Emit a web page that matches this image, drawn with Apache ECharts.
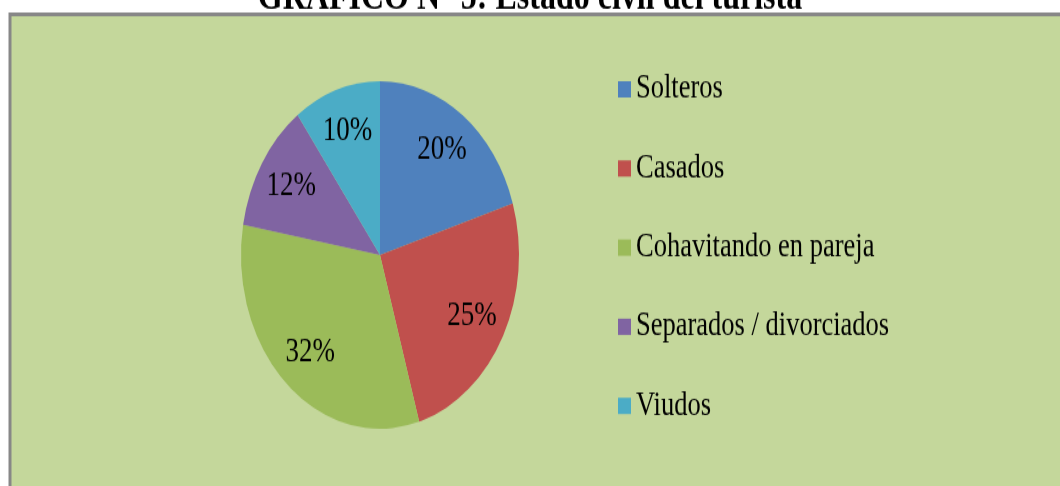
<!DOCTYPE html>
<html>
<head>
<meta charset="utf-8">
<script src="https://cdn.jsdelivr.net/npm/echarts@6/dist/echarts.min.js"></script>
<style>
  html, body { margin: 0; padding: 0; background: #fff; overflow: hidden; }
  #wrap { width: 1060px; height: 486px; overflow: hidden; position: relative; }
  /* the original picture is stretched vertically by about 1.25 */
  #chart { width: 1060px; height: 389px; transform: scaleY(1.25); transform-origin: 0 0; }
</style>
</head>
<body>
<div id="wrap"><div id="chart"></div></div>
<script>
const titleText = 'GRAFICO N° 5: Estado civil del turista'
const categories = ['Solteros', 'Casados', 'Cohavitando en pareja', 'Separados / divorciados', 'Viudos']
const percents = [20, 25, 32, 12, 10]
const colors = ['#4F81BD', '#C0504D', '#9BBB59', '#8064A2', '#4BACC6']

const pieData = categories.map((name, i) => ({ name, value: percents[i] }))
const center = [380, 204]
const radius = 139

const chart = echarts.init(document.getElementById('chart'))
chart.setOption({
  animation: false,
  color: colors,
  title: {
    text: titleText,
    left: 'center',
    top: -22.5,
    textStyle: { fontFamily: 'Liberation Serif', fontWeight: 'bold', fontSize: 32, color: '#000' }
  },
  graphic: [
    {
      type: 'rect',
      z: -10,
      shape: { x: 10, y: 11.6, width: 1100, height: 420 },
      style: { fill: '#C4D79B', stroke: '#878787', lineWidth: 3 }
    }
  ],
  legend: {
    orient: 'vertical',
    left: 613,
    top: 53,
    itemWidth: 13,
    itemHeight: 13,
    itemGap: 36.3,
    icon: 'rect',
    data: categories,
    textStyle: { fontFamily: 'Liberation Serif', fontSize: 26.5, lineHeight: 26, color: '#000' }
  },
  series: [
    {
      type: 'pie',
      center: center,
      radius: radius,
      label: { show: false },
      labelLine: { show: false },
      silent: true,
      data: pieData
    },
    {
      // transparent copy, only to place labels further out than the default
      type: 'pie',
      center: center,
      radius: [64, radius],
      silent: true,
      itemStyle: { color: 'transparent' },
      label: {
        show: true,
        position: 'inside',
        formatter: '{c}%',
        fontFamily: 'Liberation Serif',
        fontSize: 27,
        color: '#000'
      },
      labelLine: { show: false },
      data: pieData
    }
  ]
})
</script>
</body>
</html>
